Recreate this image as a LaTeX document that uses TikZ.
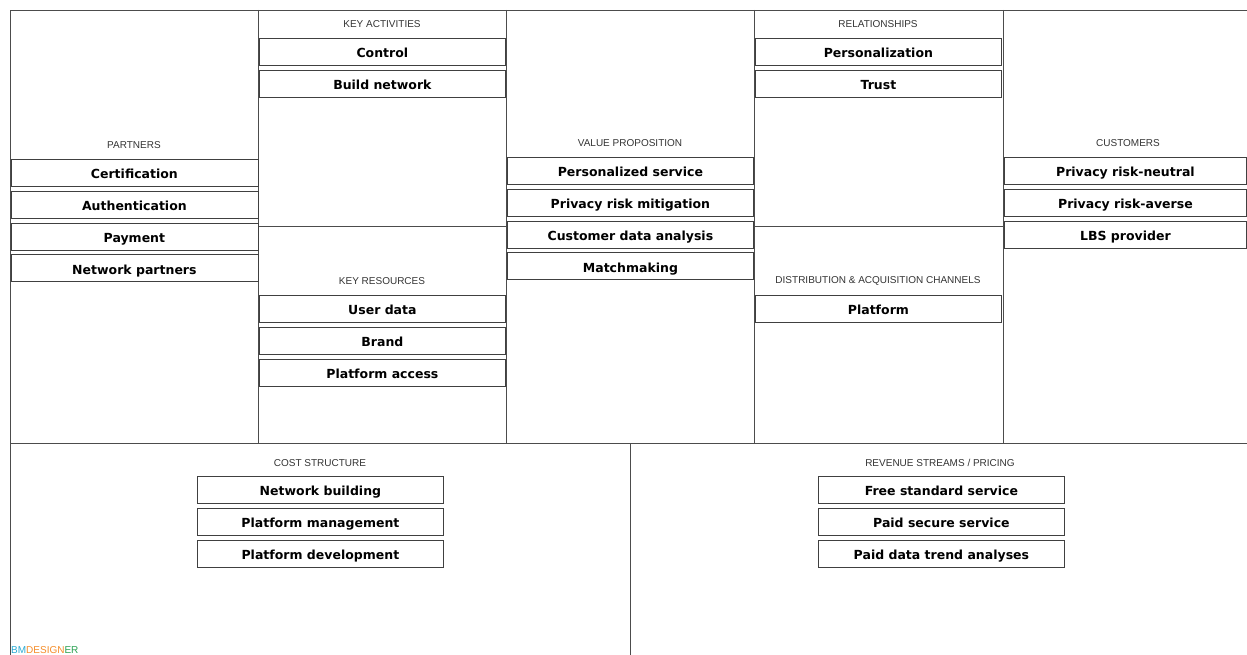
\documentclass[tikz,border=0pt]{standalone}
\usepackage{fontspec}
\setmainfont{DejaVu Sans}
\newfontfamily\headfont{Liberation Sans}
\usetikzlibrary{positioning}

\definecolor{bmblue}{RGB}{40,170,210}
\definecolor{bmorange}{RGB}{245,140,40}
\definecolor{bmgreen}{RGB}{40,160,80}

\begin{document}
\begin{tikzpicture}[
	x=1pt,y=-1pt,
	item/.style={
	  draw=black!75,
	  line width=0.8pt,
	  minimum width=246pt,
	  minimum height=27pt,
	  inner sep=0pt,
	  text height=12pt,
	  text depth=0pt,
	  anchor=north west,
	  font=\fontsize{12.5}{14}\selectfont\bfseries
	},
	head/.style={
	  inner sep=0pt,
	  text=black!80,
	  font=\headfont\fontsize{10}{12}\selectfont
	},
	grid/.style={
	  draw=black!70,
	  line width=0.8pt
	},
	node distance=4pt
]
\useasboundingbox (0,0) rectangle (1247,655);

% canvas
\draw[grid] (10,655) -- (10,10) -- (1247,10);
\draw[grid] (10,443) -- (1247,443);
\foreach \x in {258,506,754,1003}
  \draw[grid] (\x,10) -- (\x,443);
\draw[grid] (258,226) -- (506,226);
\draw[grid] (754,226) -- (1003,226);
\draw[grid] (630,443) -- (630,655);

% partners
\node[head] (parth) at (134,145) {PARTNERS};
\node[item,minimum width=247pt] at (10.5,159) 
  (cert) {Certification};
\node[item,minimum width=247pt,below=of cert] 
  (auth) {Authentication};
\node[item,minimum width=247pt,below=of auth] 
  (pay) {Payment};
\node[item,minimum width=247pt,below=of pay] 
  (netp) {Network partners};

% key activities
\node[head] (acth) at (382,24) {KEY ACTIVITIES};
\node[item] at (259,38) 
  (ctrl) {Control};
\node[item,below=of ctrl] 
  (build) {Build network};

% key resources
\node[head] (resh) at (382,281) {KEY RESOURCES};
\node[item] at (259,295) 
  (udata) {User data};
\node[item,below=of udata] 
  (brand) {Brand};
\node[item,below=of brand] 
  (pacc) {Platform access};

% value proposition
\node[head] (valh) at (630,143) {VALUE PROPOSITION};
\node[item] at (507,157) 
  (pserv) {Personalized service};
\node[item,below=of pserv] 
  (prisk) {Privacy risk mitigation};
\node[item,below=of prisk] 
  (cdata) {Customer data analysis};
\node[item,below=of cdata] 
  (match) {Matchmaking};

% relationships
\node[head] (relh) at (878,24) {RELATIONSHIPS};
\node[item] at (755,38) 
  (pers) {Personalization};
\node[item,below=of pers] 
  (trust) {Trust};

% channels
\node[head] (chah) at (878,281) {DISTRIBUTION \& ACQUISITION CHANNELS};
\node[item] at (755,295) 
  (plat) {Platform};

% customers
\node[head] (custh) at (1128,143) {CUSTOMERS};
\node[item,minimum width=242pt] at (1004,157) 
  (neut) {Privacy risk-neutral};
\node[item,minimum width=242pt,below=of neut] 
  (avers) {Privacy risk-averse};
\node[item,minimum width=242pt,below=of avers] 
  (lbs) {LBS provider};

% cost structure
\node[head] (costh) at (320,463) {COST STRUCTURE};
\node[item] at (197,476) 
  (nbuild) {Network building};
\node[item,below=of nbuild] 
  (pman) {Platform management};
\node[item,below=of pman] 
  (pdev) {Platform development};

% revenue streams
\node[head] (revh) at (940,463) {REVENUE STREAMS / PRICING};
\node[item] at (818,476) 
  (free) {Free standard service};
\node[item,below=of free] 
  (paid) {Paid secure service};
\node[item,below=of paid] 
  (trend) {Paid data trend analyses};

% logo
\node[anchor=south west,inner sep=0pt,font=\headfont\fontsize{10}{11}\selectfont] at (11,654) 
  (logo) {\textcolor{bmblue}{BM}\textcolor{bmorange}{DESIGN}\textcolor{bmgreen}{ER}};

\end{tikzpicture}
\end{document}
